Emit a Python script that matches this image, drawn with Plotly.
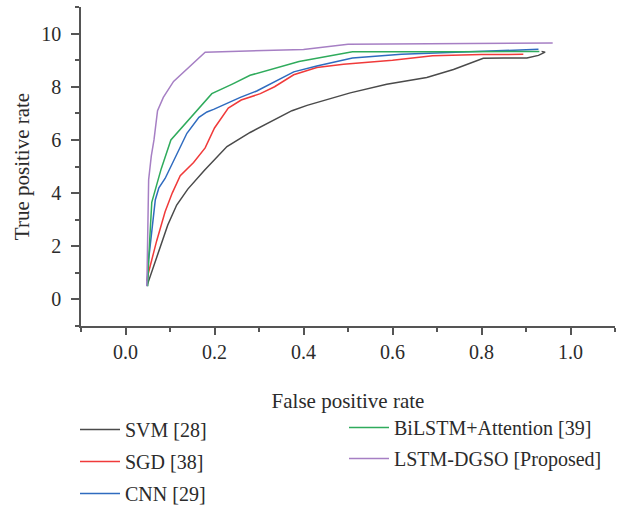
import plotly.graph_objects as go

# ---- data ----
names = ["SVM [28]", "SGD [38]", "CNN [29]", "BiLSTM+Attention [39]", "LSTM-DGSO [Proposed]"]

svm_x = [0.048, 0.06, 0.078, 0.095, 0.115, 0.14, 0.177, 0.205, 0.228, 0.28, 0.318, 0.374, 0.408,
         0.505, 0.587, 0.677, 0.737, 0.77, 0.804, 0.85, 0.902, 0.928, 0.943, 0.935]
svm_y = [0.5, 1.1, 2.0, 2.8, 3.55, 4.15, 4.85, 5.35, 5.75, 6.28, 6.6, 7.1, 7.3,
         7.77, 8.09, 8.35, 8.65, 8.85, 9.07, 9.08, 9.08, 9.18, 9.3, 9.33]

sgd_x = [0.048, 0.05, 0.07, 0.089, 0.105, 0.123, 0.153, 0.179, 0.2, 0.231, 0.26, 0.303, 0.335,
         0.378, 0.43, 0.49, 0.6, 0.69, 0.80, 0.894]
sgd_y = [0.7, 0.9, 2.2, 3.3, 4.0, 4.65, 5.15, 5.7, 6.45, 7.2, 7.5, 7.74, 8.0,
         8.45, 8.72, 8.85, 9.0, 9.17, 9.21, 9.22]

cnn_x = [0.048, 0.052, 0.067, 0.075, 0.089, 0.11, 0.138, 0.165, 0.183, 0.198, 0.258, 0.295,
         0.378, 0.43, 0.51, 0.62, 0.75, 0.928]
cnn_y = [0.5, 1.5, 3.75, 4.2, 4.55, 5.3, 6.25, 6.85, 7.05, 7.15, 7.6, 7.84,
         8.56, 8.78, 9.08, 9.22, 9.29, 9.41]

bil_x = [0.05, 0.052, 0.059, 0.08, 0.102, 0.15, 0.194, 0.24, 0.28, 0.39, 0.51, 0.75, 0.93]
bil_y = [0.5, 1.5, 3.65, 4.9, 6.0, 6.9, 7.74, 8.1, 8.43, 8.95, 9.32, 9.32, 9.33]

dgso_x = [0.048, 0.052, 0.058, 0.064, 0.072, 0.085, 0.108, 0.179, 0.40, 0.50, 0.96]
dgso_y = [0.5, 4.5, 5.4, 6.0, 7.1, 7.6, 8.2, 9.3, 9.4, 9.6, 9.65]

series_x = [svm_x, sgd_x, cnn_x, bil_x, dgso_x]
series_y = [svm_y, sgd_y, cnn_y, bil_y, dgso_y]
colors = ["#4a4a4a", "#f03a3a", "#2f6bbf", "#2fab5c", "#a67fc4"]
legend_ids = ["legend", "legend", "legend", "legend2", "legend2"]

x_ticks = [0.0, 0.2, 0.4, 0.6, 0.8, 1.0]
x_ticklabels = ["0.0", "0.2", "0.4", "0.6", "0.8", "1.0"]
y_ticks = [0, 2, 4, 6, 8, 10]

FONT = "Liberation Serif"
TXT = "#2b2b2b"
AX = "#555555"

fig = go.Figure()
for i in range(5):
    fig.add_trace(go.Scatter(
        x=series_x[i], y=series_y[i], mode="lines", name=names[i],
        line=dict(color=colors[i], width=1.5),
        legend=legend_ids[i], legendgroup=names[i],
    ))

W, H = 621, 506
L, R, T, B = 81, 6, 7, 180
PW, PH = W - L - R, H - T - B


def px_x(px):
    return (px - L) / PW


def px_y(py):
    return (H - B - py) / PH


fig.update_layout(
    width=W, height=H,
    margin=dict(l=L, r=R, t=T, b=B, autoexpand=False),
    paper_bgcolor="white", plot_bgcolor="white",
    font=dict(family=FONT, size=20, color=TXT),
    legend=dict(x=px_x(75), y=px_y(410),
                xanchor="left", yanchor="top", traceorder="grouped", tracegroupgap=3,
                font=dict(family=FONT, size=20, color=TXT), bgcolor="rgba(0,0,0,0)",
                itemwidth=40),
    legend2=dict(x=px_x(344), y=px_y(408),
                 xanchor="left", yanchor="top", traceorder="grouped", tracegroupgap=2,
                 font=dict(family=FONT, size=20, color=TXT), bgcolor="rgba(0,0,0,0)",
                 itemwidth=40),
)
fig.update_xaxes(
    range=[-0.1, 1.1], tickvals=x_ticks, ticktext=x_ticklabels, automargin=False,
    showline=True, linecolor=AX, linewidth=1.5, ticks="outside", ticklen=7, tickwidth=1.5,
    tickcolor=AX, showgrid=False, zeroline=False,
    minor=dict(ticks="outside", ticklen=4, tickwidth=1.5, tickcolor=AX, tick0=-0.1, dtick=0.2),
    tickfont=dict(family=FONT, size=20, color=TXT),
    title=dict(text="False positive rate", font=dict(family=FONT, size=21, color=TXT), standoff=32),
)
fig.update_yaxes(
    range=[-1, 11], tickvals=y_ticks, automargin=False,
    showline=True, linecolor=AX, linewidth=1.5, ticks="outside", ticklen=8, tickwidth=1.5,
    tickcolor=AX, showgrid=False, zeroline=False,
    minor=dict(ticks="outside", ticklen=4, tickwidth=1.5, tickcolor=AX, tick0=1, dtick=2),
    tickfont=dict(family=FONT, size=20, color=TXT), ticklabelstandoff=6,
    title=dict(text="True positive rate", font=dict(family=FONT, size=21, color=TXT), standoff=6),
)

fig.write_html("out.html")
